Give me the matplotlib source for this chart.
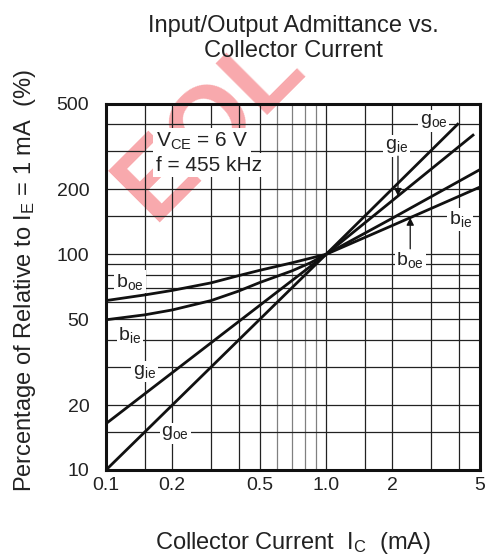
import matplotlib
matplotlib.use("Agg")
import matplotlib.pyplot as plt
import numpy as np

plt.rcParams["font.family"] = ["Liberation Sans", "DejaVu Sans"]
plt.rcParams["mathtext.fontset"] = "custom"
plt.rcParams["mathtext.rm"] = "Liberation Sans"
plt.rcParams["mathtext.it"] = "Liberation Sans:italic"
plt.rcParams["mathtext.bf"] = "Liberation Sans:bold"

# ---- data: percentage of value at IE = 1 mA versus collector current (mA)
ic_goe = [0.1, 1.0, 4.0]
goe = [10, 100, 405]

ic_gie = [0.1, 1.0, 4.7]
gie = [16.4, 100, 360]

ic_boe = [0.1, 0.15, 0.2, 0.3, 0.4, 0.5, 0.7, 1.0, 2.0, 5.0]
boe = [61, 64.8, 68, 73.7, 79.6, 84.3, 91.3, 100, 136, 205]

ic_bie = [0.1, 0.15, 0.2, 0.3, 0.4, 0.5, 0.7, 0.85, 1.0, 2.0, 5.0]
bie = [49.7, 52.4, 55.2, 61, 67.5, 74, 83.8, 91.4, 100, 147, 247]

x_ticks = [0.1, 0.2, 0.5, 1.0, 2, 5]
x_ticklabels = ["0.1", "0.2", "0.5", "1.0", "2", "5"]
y_ticks = [10, 20, 50, 100, 200, 500]
y_ticklabels = ["10", "20", "50", "100", "200", "500"]

x_grid = [0.15, 0.2, 0.3, 0.4, 0.5, 0.6, 0.7, 0.8, 0.9, 1.0, 1.5, 2, 3, 4]
x_grid_light = [0.6, 0.7, 0.8, 0.9]
y_grid = [15, 20, 30, 40, 50, 60, 70, 80, 90, 100, 150, 200, 300, 400]

fig = plt.figure(figsize=(4.89, 5.59), dpi=100)
ax = fig.add_axes([106 / 489, 1 - 470 / 559, 374 / 489, 366.5 / 559])
ax.patch.set_facecolor("none")

# diagonal stamp behind the chart
fig.text(153 / 489, 1 - 222 / 559, "EOL", rotation=45, rotation_mode="anchor",
         ha="left", va="baseline", fontsize=76, fontweight="bold",
         color="#ee1c25", alpha=0.38, zorder=-1)

ax.set_xscale("log")
ax.set_yscale("log")
ax.set_xlim(0.1, 5)
ax.set_ylim(10, 500)

for gx in x_grid:
    col = "#808080" if gx in x_grid_light else "#222222"
    ax.axvline(gx, color=col, lw=0.9, zorder=1)
for gy in y_grid:
    ax.axhline(gy, color="#222222", lw=0.9, zorder=1)

line_kw = dict(color="#111111", lw=2.0, zorder=5, solid_capstyle="butt",
               solid_joinstyle="round")
ax.plot(ic_goe, goe, **line_kw)
ax.plot(ic_gie, gie, **line_kw)
ax.plot(ic_boe, boe, **line_kw)
ax.plot(ic_bie, bie, **line_kw)

ax.set_xticks(x_ticks)
ax.set_xticklabels(x_ticklabels)
ax.set_yticks(y_ticks)
ax.set_yticklabels(y_ticklabels)
ax.xaxis.set_minor_locator(matplotlib.ticker.NullLocator())
ax.yaxis.set_minor_locator(matplotlib.ticker.NullLocator())
ax.tick_params(axis="both", length=0, labelsize=14, colors="#222222")
ax.tick_params(axis="x", pad=5)
ax.tick_params(axis="y", pad=12)

for s in ax.spines.values():
    s.set_linewidth(2.2)
    s.set_color("#111111")
    s.set_zorder(6)

box = dict(facecolor="white", edgecolor="none", pad=1.2)


def tag(x, y, s):
    ax.text(x, y, s, ha="center", va="center", fontsize=14, color="#222222",
            bbox=box, zorder=4)


def on_curve(x, xs, ys):
    return 10 ** np.interp(np.log10(x), np.log10(xs), np.log10(ys))


tag(3.07, 415, r"g$_{\mathrm{oe}}$")
tag(2.09, 318, r"g$_{\mathrm{ie}}$")
tag(4.06, 145, r"b$_{\mathrm{ie}}$")
tag(2.41, 94, r"b$_{\mathrm{oe}}$")
tag(0.1285, 74.6, r"b$_{\mathrm{oe}}$")
tag(0.1285, 42.3, r"b$_{\mathrm{ie}}$")
tag(0.150, 28.6, r"g$_{\mathrm{ie}}$")
tag(0.206, 14.8, r"g$_{\mathrm{oe}}$")

arrow_kw = dict(arrowstyle="-|>", color="#111111", lw=0.9, mutation_scale=11,
                shrinkA=0, shrinkB=0)
xa = 2.12
ax.annotate("", xy=(xa, on_curve(xa, ic_gie, gie)), xytext=(xa, 285),
            arrowprops=arrow_kw, zorder=6)
xb = 2.41
ax.annotate("", xy=(xb, on_curve(xb, ic_boe, boe)), xytext=(xb, 106),
            arrowprops=arrow_kw, zorder=6)

note_box = dict(facecolor="white", edgecolor="none", pad=2)
ax.text(0.169, 333, r"V$_{\mathrm{CE}}$ = 6 V", ha="left", va="center",
        fontsize=15, color="#222222", bbox=note_box, zorder=4)
ax.text(0.169, 259, "f = 455 kHz", ha="left", va="center",
        fontsize=15, color="#222222", bbox=note_box, zorder=4)

fig.text(293 / 489, 1 - 38.5 / 559, "Input/Output Admittance vs.\nCollector Current",
         ha="center", va="center", fontsize=17, linespacing=1.15, color="#222222")
fig.text(293 / 489, 1 - 543 / 559, r"Collector Current  I$_{\mathrm{C}}$  (mA)",
         ha="center", va="center", fontsize=17, color="#222222")
fig.text(25 / 489, 1 - 281 / 559, r"Percentage of Relative to I$_{\mathrm{E}}$ = 1 mA  (%)",
         ha="center", va="center", rotation=90, fontsize=17, color="#222222")

fig.savefig("out.png", dpi=100)
